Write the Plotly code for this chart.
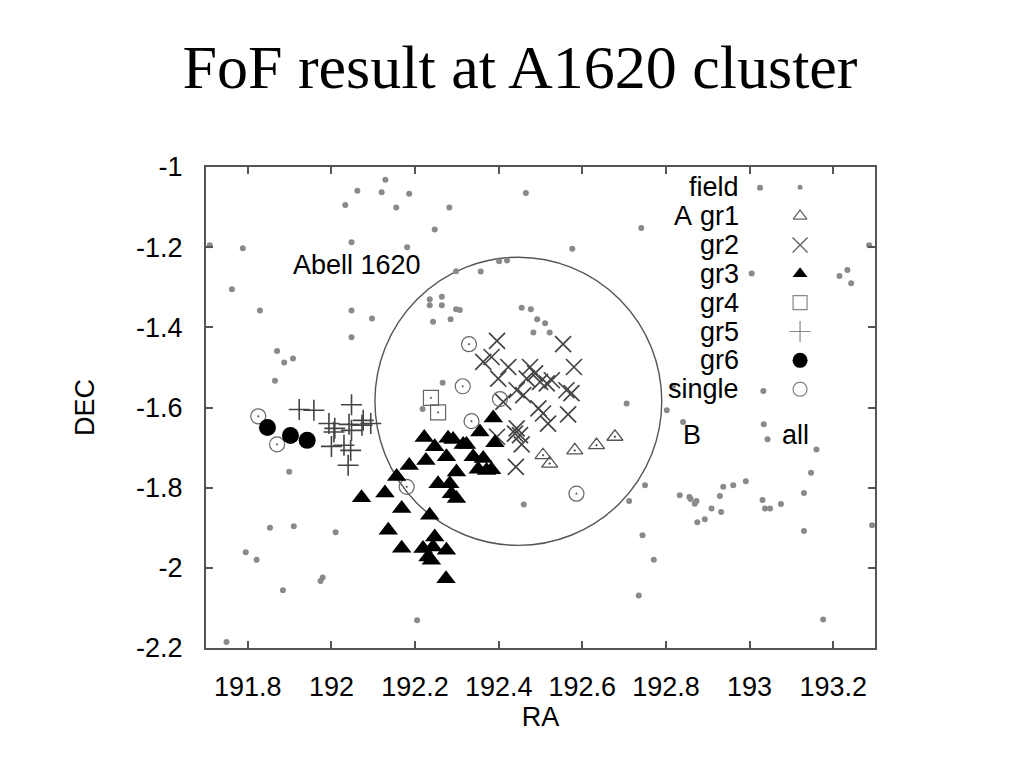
import plotly.graph_objects as go

# ---------------- data (RA, DEC in degrees) ----------------
field_ra = [192.129, 192.062, 192.120, 192.186, 192.033, 192.155, 191.709, 191.788, 192.048, 192.181,
            191.762, 191.829, 192.048, 192.097, 192.465, 192.282, 192.247, 192.741, 192.576, 192.401,
            192.420, 192.357, 192.298, 192.235, 192.264, 192.235, 192.264, 192.298, 192.307, 192.455,
            192.477, 192.492, 192.511, 192.285, 192.243, 193.025, 193.286, 193.005, 193.215, 193.234,
            193.243, 191.870, 191.887, 191.908, 191.865, 192.048, 191.899, 192.483, 192.522, 192.266,
            192.218, 192.706, 193.033, 192.817, 192.802, 192.841, 193.034, 193.043, 193.160, 193.147,
            192.750, 192.937, 192.961, 192.991, 191.853, 191.910, 192.010, 191.795, 191.821, 191.884,
            191.979, 191.974, 192.205, 191.749, 192.460, 192.712, 192.744, 192.735, 192.833, 192.856,
            192.859, 192.873, 192.869, 192.909, 192.932, 192.929, 192.875, 192.893, 193.031, 193.037,
            193.049, 193.075, 193.130, 193.130, 192.771, 193.176, 193.293]
field_dec = [-1.032, -1.059, -1.063, -1.067, -1.095, -1.101, -1.195, -1.203, -1.188, -1.200,
             -1.305, -1.358, -1.358, -1.378, -1.065, -1.101, -1.156, -1.152, -1.204, -1.235,
             -1.233, -1.261, -1.260, -1.330, -1.324, -1.345, -1.345, -1.355, -1.357, -1.351,
             -1.355, -1.380, -1.390, -1.380, -1.386, -1.052, -1.195, -1.266, -1.272, -1.257,
             -1.290, -1.459, -1.488, -1.478, -1.533, -1.425, -1.760, -1.413, -1.413, -1.538,
             -1.604, -1.590, -1.559, -1.546, -1.607, -1.636, -1.642, -1.679, -1.705, -1.763,
             -1.794, -1.798, -1.794, -1.784, -1.900, -1.896, -1.911, -1.961, -1.980, -2.056,
             -2.024, -2.033, -2.131, -2.185, -1.842, -1.833, -1.919, -2.069, -1.819, -1.823,
             -1.828, -1.833, -1.840, -1.852, -1.861, -1.821, -1.886, -1.879, -1.831, -1.852,
             -1.852, -1.841, -1.813, -1.908, -1.980, -2.129, -1.894]

gr1_ra = [192.506, 192.522, 192.582, 192.634, 192.678]
gr1_dec = [-1.719, -1.740, -1.707, -1.694, -1.673]

gr2_ra = [192.396, 192.363, 192.383, 192.554, 192.423, 192.399, 192.475, 192.487, 192.467, 192.499,
          192.515, 192.527, 192.580, 192.443, 192.459, 192.562, 192.574, 192.411, 192.495, 192.506,
          192.566, 192.518, 192.443, 192.451, 192.439, 192.396, 192.455, 192.441]
gr2_dec = [-1.434, -1.486, -1.474, -1.442, -1.499, -1.528, -1.499, -1.515, -1.528, -1.536,
           -1.540, -1.532, -1.499, -1.557, -1.569, -1.557, -1.564, -1.586, -1.602, -1.615,
           -1.617, -1.640, -1.652, -1.669, -1.665, -1.673, -1.692, -1.748]

gr3_ra = [192.222, 192.186, 192.226, 192.156, 192.387, 192.355, 192.279, 192.291, 192.247, 192.315,
          192.323, 192.391, 192.275, 192.339, 192.363, 192.299, 192.351, 192.371, 192.383, 192.255,
          192.283, 192.072, 192.128, 192.168, 192.136, 192.168, 192.219, 192.231, 192.235, 192.287,
          192.299, 192.247, 192.243, 192.275, 192.239, 192.274]
gr3_dec = [-1.675, -1.745, -1.732, -1.772, -1.626, -1.661, -1.677, -1.680, -1.698, -1.692,
           -1.692, -1.688, -1.723, -1.723, -1.727, -1.761, -1.754, -1.757, -1.755, -1.790,
           -1.790, -1.825, -1.813, -1.852, -1.906, -1.951, -1.952, -1.973, -1.869, -1.815,
           -1.827, -1.923, -1.948, -1.956, -1.981, -2.027]

gr4_ra = [192.238, 192.255]
gr4_dec = [-1.576, -1.612]

gr5_ra = [191.923, 191.958, 192.048, 191.994, 192.008, 192.006, 192.042, 192.048, 192.076, 192.073,
          192.094, 192.000, 192.030, 192.046, 192.040]
gr5_dec = [-1.605, -1.607, -1.593, -1.640, -1.652, -1.661, -1.642, -1.657, -1.632, -1.644,
           -1.640, -1.697, -1.694, -1.707, -1.744]

gr6_ra = [191.847, 191.902, 191.942]
gr6_dec = [-1.650, -1.670, -1.682]

single_ra = [191.825, 191.870, 192.329, 192.314, 192.403, 192.335, 192.180, 192.586]
single_dec = [-1.622, -1.692, -1.442, -1.547, -1.579, -1.634, -1.798, -1.815]

# Abell 1620 aperture (RA/DEC bounds)
abell_ra = [192.104, 192.790]
abell_dec = [-1.944, -1.225]
abell_label = "Abell 1620"

ra_ticks = [191.8, 192.0, 192.2, 192.4, 192.6, 192.8, 193.0, 193.2]
ra_ticklabels = ["191.8", "192", "192.2", "192.4", "192.6", "192.8", "193", "193.2"]
dec_ticks = [-1.0, -1.2, -1.4, -1.6, -1.8, -2.0, -2.2]
dec_ticklabels = ["-1", "-1.2", "-1.4", "-1.6", "-1.8", "-2", "-2.2"]

legend_labels = ["field", "gr1", "gr2", "gr3", "gr4", "gr5", "gr6", "single"]

# ---------------- styles ----------------
SANS = "Liberation Sans, Arial, sans-serif"
FS = 27
styles = {
    "field": dict(symbol="circle", size=6, color="#8a8a8a", line=dict(width=0)),
    "gr1": dict(symbol="triangle-up-open-dot", size=14, color="#555555", line=dict(width=1.3, color="#555555")),
    "gr2": dict(symbol="x-thin-open", size=16, color="#444444", line=dict(width=1.7, color="#444444")),
    "gr3": dict(symbol="triangle-up", size=17, color="black", line=dict(width=0)),
    "gr4": dict(symbol="square-open-dot", size=15, color="#666666", line=dict(width=1.2, color="#666666")),
    "gr5": dict(symbol="cross-thin-open", size=15, color="#444444", line=dict(width=1.6, color="#444444")),
    "gr6": dict(symbol="circle", size=17, color="black", line=dict(width=0)),
    "single": dict(symbol="circle-open-dot", size=15, color="#666666", line=dict(width=1.2, color="#666666")),
}
legend_styles = {
    "field": dict(symbol="circle", size=5, color="#8a8a8a", line=dict(width=0)),
    "gr1": dict(symbol="triangle-up-open", size=12, color="#666666", line=dict(width=1.3, color="#666666")),
    "gr2": dict(symbol="x-thin-open", size=15, color="#666666", line=dict(width=1.4, color="#666666")),
    "gr3": dict(symbol="triangle-up", size=13, color="black", line=dict(width=0)),
    "gr4": dict(symbol="square-open", size=14, color="#888888", line=dict(width=1.2, color="#888888")),
    "gr5": dict(symbol="cross-thin-open", size=15, color="#888888", line=dict(width=1.2, color="#888888")),
    "gr6": dict(symbol="circle", size=15, color="black", line=dict(width=0)),
    "single": dict(symbol="circle-open", size=14, color="#888888", line=dict(width=1.3, color="#888888")),
}

series = [
    ("field", field_ra, field_dec),
    ("gr1", gr1_ra, gr1_dec),
    ("gr2", gr2_ra, gr2_dec),
    ("gr4", gr4_ra, gr4_dec),
    ("gr5", gr5_ra, gr5_dec),
    ("single", single_ra, single_dec),
    ("gr3", gr3_ra, gr3_dec),
    ("gr6", gr6_ra, gr6_dec),
]

fig = go.Figure()
for name, xs, ys in series:
    fig.add_trace(go.Scatter(x=xs, y=ys, mode="markers", name=name,
                             marker=styles[name], showlegend=False, hoverinfo="x+y"))

# ---------------- custom legend (text left of symbol, gnuplot style) ----------------
LEG_TEXT_X = 0.80
LEG_SYM_X = 0.888
LEG_TOP = 0.958
LEG_STEP = 0.06
for i, lab in enumerate(legend_labels):
    yy = LEG_TOP - i * LEG_STEP
    fig.add_trace(go.Scatter(x=[LEG_SYM_X], y=[yy], xaxis="x2", yaxis="y2", mode="markers",
                             marker=legend_styles[lab], showlegend=False, hoverinfo="skip"))
    fig.add_annotation(x=LEG_TEXT_X, y=yy, xref="paper", yref="paper", text=lab,
                       showarrow=False, xanchor="right", yanchor="middle",
                       font=dict(family=SANS, size=FS, color="black"))

# extra labels
fig.add_annotation(x=0.713, y=0.898, xref="paper", yref="paper", text="A", showarrow=False,
                   xanchor="center", yanchor="middle", font=dict(family=SANS, size=FS, color="black"))
fig.add_annotation(x=0.727, y=0.442, xref="paper", yref="paper", text="B", showarrow=False,
                   xanchor="center", yanchor="middle", font=dict(family=SANS, size=FS, color="black"))
fig.add_annotation(x=0.881, y=0.442, xref="paper", yref="paper", text="all", showarrow=False,
                   xanchor="center", yanchor="middle", font=dict(family=SANS, size=FS, color="black"))
fig.add_annotation(x=192.061, y=-1.245, xref="x", yref="y", text=abell_label, showarrow=False,
                   xanchor="center", yanchor="middle", font=dict(family=SANS, size=FS, color="black"))

# Abell radius circle
fig.add_shape(type="circle", xref="x", yref="y", x0=abell_ra[0], x1=abell_ra[1],
              y0=abell_dec[0], y1=abell_dec[1], line=dict(color="#555555", width=1.4), layer="below")

axis_common = dict(showgrid=False, zeroline=False, showline=True, linecolor="#555555", linewidth=2,
                   mirror="ticks", ticks="inside", ticklen=7, tickwidth=1.5, tickcolor="#555555",
                   tickfont=dict(family=SANS, size=FS, color="black"))

fig.update_layout(
    width=1024, height=768,
    paper_bgcolor="white", plot_bgcolor="white",
    margin=dict(l=198, r=157, t=159, b=128),
    title=dict(text="FoF result at A1620 cluster", x=0.5, xanchor="center",
               y=0.9245, yanchor="middle", yref="container",
               font=dict(family="Liberation Serif, Times New Roman, serif", size=62, color="black")),
    xaxis=dict(range=[191.7, 193.3], tickvals=ra_ticks, ticktext=ra_ticklabels,
               title=dict(text="RA", font=dict(family=SANS, size=FS, color="black"), standoff=4),
               ticklabelstandoff=14, **axis_common),
    yaxis=dict(range=[-2.2, -1.0], tickvals=dec_ticks, ticktext=dec_ticklabels,
               title=dict(text="DEC", font=dict(family=SANS, size=FS, color="black"), standoff=34),
               ticklabelstandoff=16, **axis_common),
    xaxis2=dict(range=[0, 1], overlaying="x", visible=False),
    yaxis2=dict(range=[0, 1], overlaying="y", visible=False),
    showlegend=False,
)

fig.write_html("out.html")
